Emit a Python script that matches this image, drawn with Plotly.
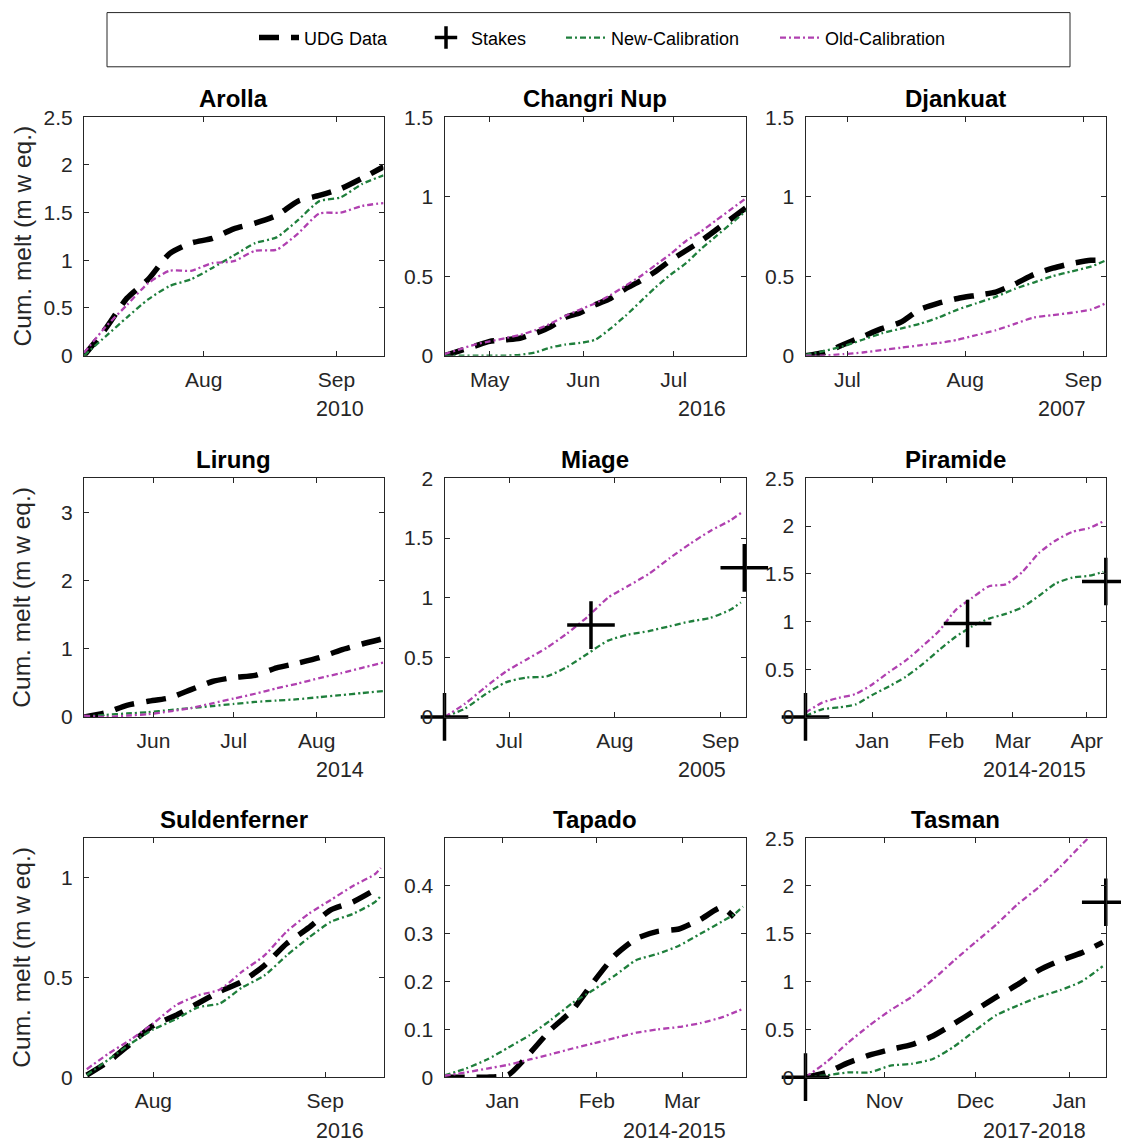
import plotly.graph_objects as go
from plotly.subplots import make_subplots

W, H = 1121, 1147

# ---------------- data ----------------
arolla_dates = ["2010-07-04", "2010-07-09", "2010-07-14", "2010-07-19", "2010-07-24", "2010-07-29",
                "2010-08-03", "2010-08-08", "2010-08-13", "2010-08-18", "2010-08-23", "2010-08-28",
                "2010-09-02", "2010-09-07", "2010-09-12"]
arolla_udg = [0, 0.28, 0.60, 0.80, 1.07, 1.18, 1.23, 1.33, 1.39, 1.47, 1.62, 1.68, 1.75, 1.86, 1.98]
arolla_new = [0, 0.20, 0.40, 0.59, 0.73, 0.80, 0.92, 1.05, 1.18, 1.24, 1.42, 1.62, 1.66, 1.80, 1.89]
arolla_old = [0.03, 0.30, 0.53, 0.76, 0.89, 0.89, 0.97, 0.99, 1.10, 1.11, 1.28, 1.49, 1.50, 1.57, 1.60]

changri_dates = ["2016-04-16", "2016-04-21", "2016-04-26", "2016-05-01", "2016-05-06", "2016-05-11",
                 "2016-05-16", "2016-05-21", "2016-05-26", "2016-05-31", "2016-06-05", "2016-06-10",
                 "2016-06-15", "2016-06-20", "2016-06-25", "2016-06-30", "2016-07-05", "2016-07-10",
                 "2016-07-15", "2016-07-20", "2016-07-25"]
changri_udg = [0, 0.03, 0.06, 0.09, 0.10, 0.11, 0.14, 0.18, 0.24, 0.27, 0.32, 0.36, 0.42, 0.47,
               0.53, 0.60, 0.66, 0.72, 0.79, 0.86, 0.93]
changri_new = [0, 0, 0, 0, 0, 0.005, 0.02, 0.05, 0.07, 0.08, 0.10, 0.17, 0.25, 0.34, 0.43, 0.51,
               0.58, 0.67, 0.75, 0.83, 0.91]
changri_old = [0.01, 0.04, 0.07, 0.09, 0.11, 0.13, 0.16, 0.20, 0.25, 0.29, 0.33, 0.38, 0.44, 0.50,
               0.57, 0.64, 0.72, 0.78, 0.85, 0.92, 0.99]

djankuat_dates = ["2007-06-20", "2007-06-25", "2007-06-30", "2007-07-05", "2007-07-10", "2007-07-15",
                  "2007-07-20", "2007-07-25", "2007-07-30", "2007-08-04", "2007-08-09", "2007-08-14",
                  "2007-08-19", "2007-08-24", "2007-08-29", "2007-09-03", "2007-09-07"]
djankuat_udg = [0, 0.02, 0.07, 0.12, 0.17, 0.21, 0.29, 0.33, 0.36, 0.38, 0.40, 0.45, 0.51, 0.55,
                0.58, 0.60, 0.60]
djankuat_new = [0.005, 0.03, 0.06, 0.10, 0.14, 0.17, 0.20, 0.24, 0.29, 0.33, 0.37, 0.42, 0.46, 0.50,
                0.53, 0.56, 0.60]
djankuat_old = [0, 0, 0.01, 0.02, 0.035, 0.05, 0.065, 0.08, 0.10, 0.13, 0.16, 0.20, 0.24, 0.255,
                0.27, 0.29, 0.33]

lirung_dates = ["2014-05-06", "2014-05-14", "2014-05-22", "2014-05-30", "2014-06-07", "2014-06-15",
                "2014-06-23", "2014-07-01", "2014-07-09", "2014-07-17", "2014-07-25", "2014-08-02",
                "2014-08-10", "2014-08-18", "2014-08-26"]
lirung_udg = [0, 0.06, 0.17, 0.23, 0.28, 0.40, 0.52, 0.58, 0.61, 0.72, 0.79, 0.87, 0.98, 1.07, 1.15]
lirung_new = [0.01, 0.03, 0.05, 0.07, 0.10, 0.13, 0.16, 0.19, 0.22, 0.24, 0.26, 0.29, 0.32, 0.35, 0.38]
lirung_old = [0.02, 0.0, 0.02, 0.04, 0.08, 0.13, 0.20, 0.27, 0.34, 0.42, 0.49, 0.57, 0.64, 0.72, 0.80]

miage_dates = ["2005-06-12", "2005-06-18", "2005-06-24", "2005-06-30", "2005-07-06", "2005-07-12",
               "2005-07-18", "2005-07-24", "2005-07-30", "2005-08-05", "2005-08-11", "2005-08-17",
               "2005-08-23", "2005-08-29", "2005-09-04", "2005-09-07"]
miage_new = [0, 0.07, 0.19, 0.29, 0.33, 0.34, 0.42, 0.53, 0.64, 0.69, 0.72, 0.76, 0.80, 0.83, 0.90, 0.96]
miage_old = [0, 0.11, 0.25, 0.38, 0.48, 0.58, 0.70, 0.84, 1.00, 1.10, 1.20, 1.33, 1.45, 1.56, 1.65, 1.71]
miage_stake_dates = ["2005-06-12", "2005-07-25", "2005-09-08"]
miage_stakes = [0, 0.77, 1.25]

piramide_dates = ["2014-12-04", "2014-12-11", "2014-12-18", "2014-12-25", "2015-01-01", "2015-01-08",
                  "2015-01-15", "2015-01-22", "2015-01-29", "2015-02-05", "2015-02-12", "2015-02-19",
                  "2015-02-26", "2015-03-05", "2015-03-12", "2015-03-19", "2015-03-26", "2015-04-02",
                  "2015-04-08"]
piramide_new = [0.01, 0.08, 0.10, 0.13, 0.23, 0.32, 0.42, 0.55, 0.70, 0.84, 0.95, 1.03, 1.08, 1.15,
                1.27, 1.40, 1.46, 1.48, 1.52]
piramide_old = [0.045, 0.15, 0.20, 0.24, 0.34, 0.47, 0.59, 0.74, 0.90, 1.12, 1.25, 1.37, 1.39, 1.52,
                1.72, 1.85, 1.94, 1.98, 2.05]
piramide_stake_dates = ["2014-12-04", "2015-02-10", "2015-04-09"]
piramide_stakes = [0, 0.98, 1.42]

sulden_dates = ["2016-07-20", "2016-07-24", "2016-07-28", "2016-08-01", "2016-08-05", "2016-08-09",
                "2016-08-13", "2016-08-17", "2016-08-21", "2016-08-25", "2016-08-29", "2016-09-02",
                "2016-09-06", "2016-09-10", "2016-09-11"]
sulden_udg = [0.01, 0.08, 0.17, 0.26, 0.31, 0.37, 0.43, 0.48, 0.56, 0.67, 0.75, 0.84, 0.88, 0.94, 0.95]
sulden_new = [0.01, 0.09, 0.17, 0.24, 0.29, 0.35, 0.37, 0.45, 0.51, 0.61, 0.70, 0.78, 0.82, 0.88, 0.91]
sulden_old = [0.04, 0.12, 0.19, 0.27, 0.36, 0.41, 0.44, 0.53, 0.61, 0.73, 0.82, 0.89, 0.96, 1.02, 1.05]

tapado_dates = ["2014-12-13", "2014-12-20", "2014-12-27", "2015-01-03", "2015-01-10", "2015-01-17",
                "2015-01-24", "2015-01-31", "2015-02-07", "2015-02-14", "2015-02-21", "2015-02-28",
                "2015-03-07", "2015-03-14", "2015-03-18", "2015-03-21"]
tapado_udg = [0, 0, 0, 0.005, 0.05, 0.10, 0.14, 0.20, 0.255, 0.29, 0.305, 0.31, 0.33, 0.355, 0.335, None]
tapado_new = [0.004, 0.018, 0.037, 0.062, 0.088, 0.12, 0.155, 0.183, 0.213, 0.245, 0.258, 0.275,
              0.30, 0.325, 0.34, 0.357]
tapado_old = [0.003, 0.01, 0.018, 0.026, 0.037, 0.048, 0.06, 0.071, 0.082, 0.093, 0.10, 0.105,
              0.113, 0.125, 0.135, 0.143]

tasman_dates = ["2017-10-06", "2017-10-13", "2017-10-20", "2017-10-27", "2017-11-03", "2017-11-10",
                "2017-11-17", "2017-11-24", "2017-12-01", "2017-12-08", "2017-12-15", "2017-12-22",
                "2017-12-29", "2018-01-05", "2018-01-12"]
tasman_udg = [0, 0.05, 0.15, 0.23, 0.29, 0.34, 0.43, 0.56, 0.70, 0.84, 0.97, 1.12, 1.22, 1.30, 1.41]
tasman_new = [0, 0.02, 0.05, 0.05, 0.12, 0.14, 0.19, 0.32, 0.49, 0.65, 0.75, 0.84, 0.91, 1.00, 1.16]
tasman_old = [0, 0.16, 0.36, 0.54, 0.70, 0.84, 1.02, 1.22, 1.41, 1.60, 1.81, 1.99, 2.20, 2.43, 2.65]
tasman_stake_dates = ["2017-10-06", "2018-01-13"]
tasman_stakes = [0, 1.83]

panel_titles = ["Arolla", "Changri Nup", "Djankuat", "Lirung", "Miage", "Piramide",
                "Suldenferner", "Tapado", "Tasman"]
year_labels = ["2010", "2016", "2007", "2014", "2005", "2014-2015", "2016", "2014-2015", "2017-2018"]
x_ranges = [["2010-07-04", "2010-09-12"], ["2016-04-16", "2016-07-25"], ["2007-06-20", "2007-09-07"],
            ["2014-05-06", "2014-08-26"], ["2005-06-12", "2005-09-08 12:00"], ["2014-12-04", "2015-04-09 02:00"],
            ["2016-07-19 12:00", "2016-09-11 12:00"], ["2014-12-13", "2015-03-22"], ["2017-10-06", "2018-01-13 02:00"]]
y_ranges = [[0, 2.5], [0, 1.5], [0, 1.5], [0, 3.5], [0, 2], [0, 2.5], [0, 1.2], [0, 0.5], [0, 2.5]]
y_ticks = [[0, 0.5, 1, 1.5, 2, 2.5], [0, 0.5, 1, 1.5], [0, 0.5, 1, 1.5], [0, 1, 2, 3],
           [0, 0.5, 1, 1.5, 2], [0, 0.5, 1, 1.5, 2, 2.5], [0, 0.5, 1], [0, 0.1, 0.2, 0.3, 0.4],
           [0, 0.5, 1, 1.5, 2, 2.5]]

panels = [
    (arolla_dates, arolla_udg, arolla_new, arolla_old, None, None),
    (changri_dates, changri_udg, changri_new, changri_old, None, None),
    (djankuat_dates, djankuat_udg, djankuat_new, djankuat_old, None, None),
    (lirung_dates, lirung_udg, lirung_new, lirung_old, None, None),
    (miage_dates, None, miage_new, miage_old, miage_stake_dates, miage_stakes),
    (piramide_dates, None, piramide_new, piramide_old, piramide_stake_dates, piramide_stakes),
    (sulden_dates, sulden_udg, sulden_new, sulden_old, None, None),
    (tapado_dates, tapado_udg, tapado_new, tapado_old, None, None),
    (tasman_dates, tasman_udg, tasman_new, tasman_old, tasman_stake_dates, tasman_stakes),
]

# ---------------- style / layout ----------------
FONT = "Liberation Sans, Arial, Helvetica, sans-serif"
AX = "#262626"
GREEN = "#1f7f3c"
MAGENTA = "#b040b0"
col_px = [(84, 383.5), (444.5, 746), (805.5, 1106)]
row_px = [(115.5, 354.5), (477.5, 716.5), (838, 1077.5)]

# the rendered page shows the figure slightly offset/compressed vertically;
# map target picture rows to figure rows
OFF_Y, SC_Y = 10.1, 0.982


def py(target_px):
    """paper y for a target picture row (px from top)"""
    return 1 - ((target_px - OFF_Y) / SC_Y) / H


fig = make_subplots(rows=3, cols=3)

shown = set()
for i, (dates, udg, new, old, sd, sv) in enumerate(panels):
    r, c = i // 3 + 1, i % 3 + 1
    if udg is not None:
        fig.add_trace(go.Scatter(x=dates, y=udg, mode="lines", name="UDG Data", legend="legend",
                                 line=dict(color="black", width=5.5, dash="20px,12px", shape="spline", smoothing=0.6),
                                 showlegend="udg" not in shown),
                      row=r, col=c)
        shown.add("udg")
    fig.add_trace(go.Scatter(x=dates, y=new, mode="lines", name="New-Calibration", legend="legend3",
                             line=dict(color=GREEN, width=2.3, dash="6px,3px,2px,3px", shape="spline", smoothing=0.6),
                             showlegend="new" not in shown),
                  row=r, col=c)
    shown.add("new")
    fig.add_trace(go.Scatter(x=dates, y=old, mode="lines", name="Old-Calibration", legend="legend4",
                             line=dict(color=MAGENTA, width=2.3, dash="6px,3px,2px,3px", shape="spline", smoothing=0.6),
                             showlegend="old" not in shown),
                  row=r, col=c)
    shown.add("old")
    if sd is not None:
        fig.add_trace(go.Scatter(x=sd, y=sv, mode="markers", name="Stakes", cliponaxis=False, legend="legend2",
                                 marker=dict(symbol="cross-thin", size=34, color="black",
                                             line=dict(color="black", width=3.5)),
                                 showlegend="stk" not in shown),
                      row=r, col=c)
        shown.add("stk")

annotations = []
for i in range(9):
    r, c = i // 3, i % 3
    x0, x1 = col_px[c]
    ytop, ybot = row_px[r]
    sfx = "" if i == 0 else str(i + 1)
    fig.layout["xaxis" + sfx].update(
        domain=[x0 / W, x1 / W], type="date", range=x_ranges[i], tickformat="%b",
        dtick="M1", tick0="2000-01-01", ticks="inside", ticklen=5, tickcolor=AX, tickwidth=1,
        showline=True, linecolor=AX, linewidth=1, mirror="ticks", showgrid=False, zeroline=False,
        tickfont=dict(family=FONT, size=21, color=AX), ticklabelstandoff=5)
    fig.layout["yaxis" + sfx].update(
        domain=[py(ybot), py(ytop)], range=y_ranges[i], tickvals=y_ticks[i],
        ticks="inside", ticklen=5, tickcolor=AX, tickwidth=1,
        showline=True, linecolor=AX, linewidth=1, mirror="ticks", showgrid=False, zeroline=False,
        tickfont=dict(family=FONT, size=21, color=AX), ticklabelstandoff=6)
    annotations.append(dict(text="<b>" + panel_titles[i] + "</b>", xref="paper", yref="paper",
                            x=(x0 + x1) / 2 / W, y=py(ytop - 19), xanchor="center", yanchor="middle",
                            showarrow=False, font=dict(family=FONT, size=24, color="black")))
    annotations.append(dict(text=year_labels[i], xref="paper", yref="paper",
                            x=(x1 - 18) / W, y=py(ybot + 53.5), xanchor="right", yanchor="middle",
                            showarrow=False, font=dict(family=FONT, size=21.5, color=AX)))
    if c == 0:
        annotations.append(dict(text="Cum. melt (m w eq.)", xref="paper", yref="paper",
                                x=22 / W, y=py((ytop + ybot) / 2), xanchor="center", yanchor="middle",
                                textangle=-90, showarrow=False,
                                font=dict(family=FONT, size=24.5, color=AX)))

legend_common = dict(orientation="h", xanchor="left", y=py(36), yanchor="middle",
                     font=dict(family=FONT, size=18, color="black"), bgcolor="rgba(0,0,0,0)",
                     itemwidth=40, tracegroupgap=0)
legend_text_x = [305, 472, 612, 826]

fig.update_layout(
    width=W, height=H, margin=dict(l=0, r=0, t=0, b=0),
    plot_bgcolor="white", paper_bgcolor="white",
    annotations=annotations,
    shapes=[dict(type="rect", xref="paper", yref="paper", x0=107 / W, x1=1070 / W,
                 y0=py(65), y1=min(py(7), 1 - 0.6 / H), line=dict(color=AX, width=1),
                 fillcolor="rgba(0,0,0,0)")],
    legend=dict(x=(legend_text_x[0] - 51) / W, **legend_common),
    legend2=dict(x=(legend_text_x[1] - 51) / W, **legend_common),
    legend3=dict(x=(legend_text_x[2] - 51) / W, **legend_common),
    legend4=dict(x=(legend_text_x[3] - 51) / W, **legend_common),
)

fig.write_html(
    "out.html",
    config={"displayModeBar": False, "staticPlot": True},
    post_script=("document.body.style.margin='0px';document.body.style.padding='0px';"
                 "document.documentElement.style.overflow='hidden';"
                 "var gd=document.getElementById('{plot_id}');"
                 "gd.style.position='absolute';gd.style.top='0px';gd.style.left='0px';"),
)
